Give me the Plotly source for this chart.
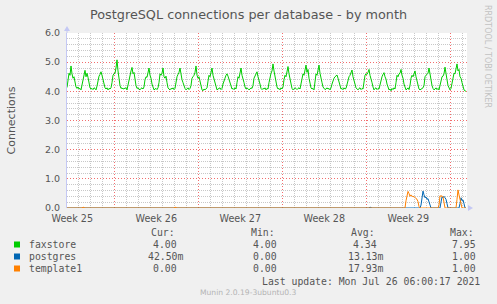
import numpy as np
import pandas as pd
import plotly.graph_objects as go

# ---------------- data ----------------
start_time = "2021-06-23 01:24"
step_hours = 2
span_hours = 800

faxstore = [
    4.13, 4.35, 4.62, 4.55, 4.87, 4.60, 4.45, 4.50, 4.30, 4.15,
    4.10, 4.15, 4.08, 4.10, 4.05, 4.20, 4.45, 4.60, 4.72, 4.50,
    4.62, 4.48, 4.30, 4.12, 4.08, 4.10, 4.06, 4.12, 4.10, 4.05,
    4.18, 4.40, 4.52, 4.58, 4.67, 4.55, 4.40, 4.25, 4.12, 4.08,
    4.12, 4.05, 4.10, 4.08, 4.12, 4.30, 4.55, 4.60, 4.62, 4.80,
    5.08, 4.70, 4.40, 4.20, 4.10, 4.12, 4.08, 4.10, 4.10,
    4.12, 4.05,
    4.25, 4.45, 4.55, 4.70, 4.82, 4.60, 4.65, 4.40, 4.20, 4.10,
    4.12, 4.08, 4.05, 4.10, 4.12, 4.08, 4.15, 4.40, 4.50, 4.48,
    4.62, 4.80, 4.55, 4.45, 4.25, 4.10, 4.05, 4.08, 4.10, 4.06,
    4.12, 4.30, 4.60, 4.55, 4.62, 4.80, 4.50, 4.45, 4.52, 4.30,
    4.12, 4.08, 4.05, 4.10, 4.08, 4.12, 4.06, 4.10, 4.35, 4.50,
    4.58, 4.65, 4.80, 4.55, 4.40, 4.30, 4.15, 4.10, 4.05, 4.08,
    4.12, 4.06, 4.10, 4.20, 4.45, 4.50, 4.55, 4.65, 4.87, 4.55,
    4.45, 4.50, 4.30, 4.15, 4.05, 4.02, 4.08, 4.05, 4.10, 4.12,
    4.35, 4.55, 4.50, 4.62, 4.80, 4.55, 4.40, 4.25, 4.10, 4.05,
    4.08, 4.10,
    4.12, 4.06, 4.10, 4.25, 4.40, 4.45, 4.55, 4.60, 4.52,
    4.40, 4.25, 4.12, 4.08, 4.10, 4.06, 4.12, 4.08, 4.30, 4.50,
    4.45, 4.62, 4.80, 4.55, 4.45, 4.30, 4.15, 4.08, 4.12, 4.10,
    4.05, 4.08, 4.12, 4.10, 4.20, 4.45, 4.52, 4.58, 4.67, 4.50,
    4.40, 4.25, 4.10, 4.06, 4.10, 4.08, 4.12, 4.05, 4.10, 4.08,
    4.30, 4.55, 4.62, 4.70, 4.94, 4.70, 4.50, 4.30, 4.15, 4.08,
    4.10, 4.05, 4.12, 4.08, 4.15, 4.40, 4.55, 4.50, 4.70, 4.85,
    4.60, 4.40, 4.20, 4.10, 4.05, 4.08, 4.12, 4.10, 4.06, 4.10,
    4.12, 4.08, 4.25, 4.50, 4.60, 4.55, 4.72, 4.90, 4.65, 4.75,
    4.45, 4.25, 4.12, 4.08, 4.10, 4.05, 4.30, 4.60, 4.55, 4.75,
    4.90, 4.62, 4.50, 4.30, 4.15, 4.10, 4.06, 4.08,
    4.12, 4.08, 4.10,
    4.05, 4.12, 4.25, 4.38, 4.45, 4.50, 4.52, 4.56, 4.45, 4.30,
    4.15, 4.08, 4.10, 4.06, 4.12, 4.08, 4.10, 4.25, 4.45, 4.50,
    4.55, 4.62, 4.73, 4.50, 4.40, 4.25, 4.12, 4.08, 4.05, 4.10,
    4.12, 4.06, 4.10, 4.08, 4.30, 4.55, 4.60, 4.58, 4.65, 4.75,
    4.55, 4.45, 4.30, 4.15, 4.05, 4.10, 4.12, 4.06, 4.10, 4.08,
    4.25, 4.45, 4.50, 4.58, 4.64, 4.50, 4.42, 4.25, 4.10, 4.05,
    4.08, 4.02, 4.10, 4.06, 4.12, 4.08, 4.30, 4.55, 4.50, 4.60,
    4.62, 4.75, 4.55, 4.45, 4.25, 4.10, 4.05, 4.08, 4.12, 4.06,
    4.20, 4.45, 4.55, 4.50, 4.60, 4.70, 4.50, 4.35, 4.15, 4.08,
    4.05, 4.08,
    4.10, 4.12, 4.20, 4.50, 4.55, 4.60, 4.62, 4.80, 4.55,
    4.40, 4.20, 4.10, 4.05, 4.08, 4.12, 4.06, 4.10, 4.05, 4.25,
    4.45, 4.50, 4.52, 4.60, 4.83, 4.50, 4.40, 4.20, 4.08, 4.05,
    4.10, 4.30, 4.55, 4.62, 4.60, 4.75, 4.94, 4.70, 4.75, 4.50,
    4.45, 4.30, 4.10, 4.05, 4.02, 4.00,
]

# sparse series: sample index where a burst starts, and the burst values
postgres_burst_start = [303, 354, 374, 393]
postgres_burst_values = [
    [0.03],
    [0.10, 0.40, 0.58, 0.45, 0.35, 0.38, 0.30, 0.32, 0.20, 0.10],
    [0.20, 0.38, 0.35, 0.40, 0.35, 0.30, 0.15],
    [0.15, 0.35, 0.25, 0.28, 0.15],
]
template1_burst_start = [16, 108, 310, 339, 372, 390]
template1_burst_values = [
    [0.03],
    [0.03],
    [0.02],
    [0.25, 0.50, 0.57, 0.50, 0.40, 0.45, 0.42, 0.38, 0.40, 0.35, 0.32, 0.30, 0.22, 0.05],
    [0.10, 0.42, 0.40, 0.42, 0.38, 0.10],
    [0.30, 0.62, 0.45, 0.30, 0.15],
]

week_labels = ["Week 25", "Week 26", "Week 27", "Week 28", "Week 29"]
week_label_times = ["2021-06-23 12:00", "2021-06-30 12:00", "2021-07-07 12:00",
                    "2021-07-14 12:00", "2021-07-21 12:00"]

series_names = ["faxstore", "postgres", "template1"]
series_colors = ["#00CC00", "#0066B3", "#FF8000"]
cur_vals = ["4.00", "42.50m", "0.00"]
min_vals = ["4.00", "0.00", "0.00"]
avg_vals = ["4.34", "13.13m", "17.93m"]
max_vals = ["7.95", "1.00", "1.00"]

# ---------------- build ----------------
n = len(faxstore)
t0 = pd.Timestamp(start_time)
times = t0 + pd.to_timedelta(np.arange(n) * step_hours, unit="h")
t_end = t0 + pd.Timedelta(hours=span_hours)


def expand(starts, values):
    arr = np.zeros(n)
    for s, vals in zip(starts, values):
        arr[s:s + len(vals)] = vals
    return arr


postgres = expand(postgres_burst_start, postgres_burst_values)
template1 = expand(template1_burst_start, template1_burst_values)

# grid positions (minor ones skip the major positions so both show)
all_days = pd.date_range(t0.normalize(), t_end, freq="D")
week_days = [d for d in all_days if d.dayofweek == 6]
minor_days = [d for d in all_days if d.dayofweek != 6 and t0 <= d <= t_end]
y_minor = [round(v, 1) for v in np.arange(0, 6.01, 0.2) if abs(v - round(v)) > 1e-6]

MAJ = "rgb(242,110,110)"
MIN = "#C8C8C8"
AXIS = "#C4C8F4"
TXT = "#555555"

fig = go.Figure()
for name, vals, col in zip(series_names, [faxstore, postgres, template1], series_colors):
    fig.add_trace(go.Scatter(x=times, y=vals, mode="lines", name=name,
                             line=dict(color=col, width=1), hoverinfo="skip"))
fig.add_trace(go.Scatter(x=[], y=[], xaxis="x2", yaxis="y", showlegend=False))

L, R, T, B = 67, 30, 33, 96
W, H = 497, 304
PW, PH = W - L - R, H - T - B


def px(xv):
    return (xv - L) / PW


def py(yv):
    return (H - B - yv) / PH


fig.update_layout(
    template="none",
    width=W, height=H,
    margin=dict(l=L, r=R, t=T, b=B, pad=0),
    paper_bgcolor="#F0F0F0", plot_bgcolor="#FFFFFF",
    showlegend=False,
    font=dict(family="DejaVu Sans", size=9.5, color=TXT),
    xaxis=dict(
        type="date", range=[t0, t_end], showgrid=True, gridcolor=MAJ, gridwidth=1,
        griddash="1px,2px", tickmode="array", tickvals=week_days,
        showticklabels=False, ticks="", showline=False, zeroline=False, fixedrange=True,
        minor=dict(tickmode="array", tickvals=minor_days, showgrid=True,
                   gridcolor=MIN, gridwidth=1, griddash="1px,1px", ticks=""),
    ),
    xaxis2=dict(
        type="date", range=[t0, t_end], overlaying="x", anchor="y", side="bottom",
        tickmode="array", tickvals=week_label_times, ticktext=week_labels,
        showgrid=False, ticks="", showline=False, zeroline=False,
        tickfont=dict(size=9.6, color=TXT), fixedrange=True, ticklabelstandoff=3,
    ),
    yaxis=dict(
        range=[0, 6], tickmode="linear", tick0=0, dtick=1, tickformat=".1f",
        showgrid=True, gridcolor=MAJ, griddash="1px,2px", gridwidth=1,
        minor=dict(tickmode="array", tickvals=y_minor, showgrid=True,
                   gridcolor=MIN, gridwidth=1, griddash="1px,1px", ticks=""),
        showline=True, linecolor=AXIS, linewidth=1, zeroline=False, ticks="",
        tickfont=dict(size=9.5, color=TXT), fixedrange=True, ticklabelstandoff=4,
    ),
)

ann = []


def add_text(text, x, y, size, color=TXT, family="DejaVu Sans", xanchor="left", angle=0):
    ann.append(dict(text=text, x=px(x), y=py(y), xref="paper", yref="paper",
                    xanchor=xanchor, yanchor="middle", showarrow=False,
                    textangle=angle, font=dict(size=size, color=color, family=family)))


add_text("PostgreSQL connections per database - by month", 248.5, 14, 12.8, xanchor="center")
add_text("Connections", 11, 120.5, 11, xanchor="center", angle=-90)
add_text("RRDTOOL / TOBI OETIKER", 487.5, 56.5, 8, color="#C2C2C2", xanchor="center", angle=90)

MONO = "DejaVu Sans Mono"
MS = 9.8
for hdr, xx in zip(["Cur:", "Min:", "Avg:", "Max:"], [149, 249, 349, 448]):
    add_text(hdr, xx, 232.5, MS, family=MONO)

row_y = [244.5, 256.5, 268.5]
shapes = []
for i, name in enumerate(series_names):
    add_text(name, 26.5, row_y[i], MS, family=MONO)
    for col_vals, right in zip([cur_vals, min_vals, avg_vals, max_vals], [185, 285, 385, 484]):
        v = col_vals[i]
        if not v.endswith("m"):
            v = v + "\u00a0"
        add_text(v, right, row_y[i], MS, family=MONO, xanchor="right")
    shapes.append(dict(type="rect", xref="paper", yref="paper",
                       x0=px(14), x1=px(20), y0=py(row_y[i] + 3), y1=py(row_y[i] - 3),
                       fillcolor=series_colors[i], line=dict(width=0)))

add_text("Last update: Mon Jul 26 06:00:17 2021", 482, 281.5, MS, family=MONO, xanchor="right")
add_text("Munin 2.0.19-3ubuntu0.3", 248.5, 292.5, 7.6, color="#B4B4B4", xanchor="center")

# axis arrows
shapes.append(dict(type="path", xref="paper", yref="paper",
                   path=f"M {px(64)},{py(31)} L {px(70)},{py(31)} L {px(67)},{py(26)} Z",
                   fillcolor=AXIS, line=dict(width=0)))
shapes.append(dict(type="line", xref="paper", yref="paper",
                   x0=px(67), x1=px(67), y0=1, y1=py(30), line=dict(color=AXIS, width=1)))
shapes.append(dict(type="path", xref="paper", yref="paper",
                   path=f"M {px(468)},{py(205)} L {px(468)},{py(211)} L {px(473)},{py(208)} Z",
                   fillcolor=AXIS, line=dict(width=0)))

fig.update_layout(annotations=ann, shapes=shapes)
fig.write_html("out.html")
